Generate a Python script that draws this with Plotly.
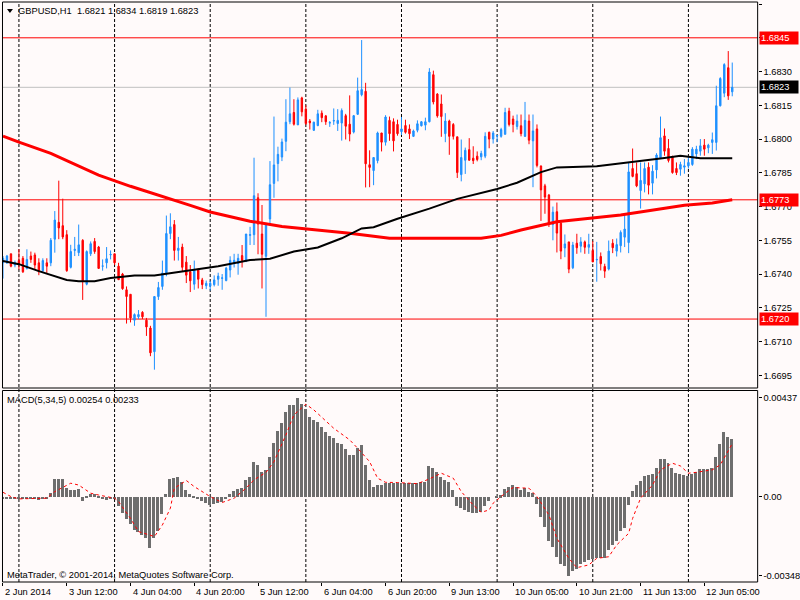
import plotly.graph_objects as go

# H1 bars, index 0 = 2 Jun 2014 20:00
open_ = [
    1.67450, 1.67450, 1.67490, 1.67440, 1.67460, 1.67470, 1.67425, 1.67480, 1.67485, 1.67450,
    1.67415, 1.67450, 1.67450, 1.67555, 1.67630, 1.67615, 1.67575, 1.67430, 1.67505, 1.67495,
    1.67550, 1.67355, 1.67490, 1.67545, 1.67520, 1.67435, 1.67450, 1.67485, 1.67490, 1.67435,
    1.67400, 1.67330, 1.67310, 1.67195, 1.67210, 1.67230, 1.67195, 1.67160, 1.67055, 1.67300,
    1.67345, 1.67405, 1.67580, 1.67620, 1.67505, 1.67520, 1.67453, 1.67410, 1.67355, 1.67418,
    1.67374, 1.67348, 1.67346, 1.67353, 1.67377, 1.67381, 1.67371, 1.67418, 1.67447, 1.67447,
    1.67482, 1.67456, 1.67572, 1.67575, 1.67739, 1.67578, 1.67479, 1.67645, 1.67803, 1.67891,
    1.67920, 1.67990, 1.68077, 1.68118, 1.68063, 1.68183, 1.68133, 1.68080, 1.68039, 1.68060,
    1.68115, 1.68103, 1.68071, 1.68080, 1.68069, 1.68071, 1.68104, 1.68066, 1.68031, 1.68110,
    1.68197, 1.68212, 1.67886, 1.67860, 1.67904, 1.68027, 1.67986, 1.68083, 1.68077, 1.68065,
    1.68033, 1.68060, 1.68045, 1.68012, 1.68039, 1.68059, 1.68062, 1.68077, 1.68286, 1.68200,
    1.68156, 1.68024, 1.68080, 1.68065, 1.68010, 1.67842, 1.67906, 1.67953, 1.67915, 1.67924,
    1.67921, 1.67924, 1.68030, 1.68000, 1.68014, 1.68012, 1.68021, 1.68124, 1.68089, 1.68056,
    1.68059, 1.68012, 1.68080, 1.67992, 1.68045, 1.67880, 1.67792, 1.67751, 1.67620, 1.67677,
    1.67626, 1.67516, 1.67543, 1.67428, 1.67537, 1.67524, 1.67543, 1.67519, 1.67505, 1.67463,
    1.67478, 1.67434, 1.67422, 1.67537, 1.67502, 1.67526, 1.67564, 1.67540, 1.67869, 1.67846,
    1.67771, 1.67801, 1.67875, 1.67804, 1.67863, 1.67917, 1.68014, 1.67958, 1.67920, 1.67869,
    1.67866, 1.67875, 1.67881, 1.67887, 1.67934, 1.67946, 1.67973, 1.67961, 1.67985, 1.67985,
    1.68148, 1.68204, 1.68317, 1.68210,
]
high = [
    1.67480, 1.67485, 1.67490, 1.67460, 1.67510, 1.67480, 1.67510, 1.67500, 1.67495, 1.67470,
    1.67470, 1.67470, 1.67560, 1.67680, 1.67815, 1.67735, 1.67595, 1.67530, 1.67565, 1.67620,
    1.67555, 1.67505, 1.67545, 1.67560, 1.67525, 1.67465, 1.67520, 1.67505, 1.67490, 1.67450,
    1.67405, 1.67345, 1.67310, 1.67225, 1.67240, 1.67235, 1.67205, 1.67170, 1.67300, 1.67365,
    1.67460, 1.67660, 1.67670, 1.67640, 1.67565, 1.67535, 1.67480, 1.67440, 1.67460, 1.67426,
    1.67383, 1.67371, 1.67370, 1.67394, 1.67406, 1.67400, 1.67432, 1.67479, 1.67490, 1.67490,
    1.67529, 1.67578, 1.67610, 1.67917, 1.67759, 1.67707, 1.67625, 1.67902, 1.68100, 1.67966,
    1.68002, 1.68177, 1.68229, 1.68177, 1.68185, 1.68188, 1.68150, 1.68089, 1.68077, 1.68130,
    1.68127, 1.68107, 1.68080, 1.68136, 1.68133, 1.68136, 1.68112, 1.68194, 1.68107, 1.68273,
    1.68440, 1.68250, 1.67950, 1.67918, 1.68033, 1.68027, 1.68106, 1.68100, 1.68092, 1.68086,
    1.68098, 1.68086, 1.68065, 1.68042, 1.68083, 1.68080, 1.68095, 1.68315, 1.68304, 1.68204,
    1.68198, 1.68115, 1.68086, 1.68071, 1.68010, 1.67998, 1.67962, 1.68004, 1.67968, 1.67945,
    1.67948, 1.68030, 1.68033, 1.68036, 1.68018, 1.68050, 1.68139, 1.68139, 1.68104, 1.68109,
    1.68109, 1.68165, 1.68109, 1.68109, 1.68065, 1.67883, 1.67801, 1.67756, 1.67700, 1.67718,
    1.67638, 1.67576, 1.67543, 1.67543, 1.67579, 1.67564, 1.67549, 1.67579, 1.67546, 1.67543,
    1.67496, 1.67446, 1.67549, 1.67555, 1.67558, 1.67594, 1.67662, 1.67896, 1.67958, 1.67896,
    1.67896, 1.67896, 1.67896, 1.67884, 1.67937, 1.68100, 1.68047, 1.68000, 1.67926, 1.67896,
    1.67899, 1.67911, 1.67920, 1.67964, 1.67970, 1.68000, 1.68000, 1.67979, 1.68029, 1.68237,
    1.68275, 1.68337, 1.68391, 1.68340,
]
low = [
    1.67380, 1.67445, 1.67430, 1.67430, 1.67420, 1.67405, 1.67420, 1.67450, 1.67420, 1.67395,
    1.67405, 1.67405, 1.67435, 1.67495, 1.67555, 1.67555, 1.67410, 1.67425, 1.67480, 1.67480,
    1.67285, 1.67350, 1.67480, 1.67490, 1.67425, 1.67415, 1.67425, 1.67465, 1.67440, 1.67375,
    1.67330, 1.67180, 1.67185, 1.67170, 1.67200, 1.67200, 1.67125, 1.67035, 1.66975, 1.67285,
    1.67330, 1.67390, 1.67555, 1.67460, 1.67460, 1.67410, 1.67360, 1.67320, 1.67330, 1.67336,
    1.67333, 1.67333, 1.67327, 1.67345, 1.67348, 1.67330, 1.67368, 1.67385, 1.67429, 1.67397,
    1.67429, 1.67453, 1.67529, 1.67529, 1.67488, 1.67336, 1.67210, 1.67616, 1.67739, 1.67812,
    1.67902, 1.67946, 1.68066, 1.68060, 1.68063, 1.68101, 1.68063, 1.68042, 1.68036, 1.68057,
    1.68075, 1.68063, 1.68054, 1.68063, 1.68036, 1.67993, 1.67998, 1.67990, 1.68025, 1.68107,
    1.68190, 1.67785, 1.67786, 1.67795, 1.67892, 1.67945, 1.67971, 1.67992, 1.67945, 1.68015,
    1.68018, 1.68024, 1.68000, 1.68009, 1.68030, 1.68056, 1.68039, 1.68074, 1.68154, 1.68095,
    1.68010, 1.67986, 1.67930, 1.67998, 1.67827, 1.67812, 1.67845, 1.67904, 1.67889, 1.67901,
    1.67906, 1.67915, 1.67959, 1.67980, 1.67986, 1.68006, 1.68021, 1.68056, 1.68030, 1.68042,
    1.68012, 1.68009, 1.67977, 1.67786, 1.67874, 1.67636, 1.67668, 1.67609, 1.67550, 1.67496,
    1.67466, 1.67475, 1.67404, 1.67422, 1.67490, 1.67496, 1.67490, 1.67490, 1.67454, 1.67366,
    1.67416, 1.67383, 1.67416, 1.67493, 1.67478, 1.67496, 1.67520, 1.67493, 1.67830, 1.67786,
    1.67691, 1.67763, 1.67754, 1.67754, 1.67825, 1.67917, 1.67926, 1.67896, 1.67846, 1.67840,
    1.67837, 1.67846, 1.67869, 1.67881, 1.67911, 1.67926, 1.67926, 1.67937, 1.67934, 1.67949,
    1.68145, 1.68186, 1.68174, 1.68190,
]
close = [
    1.67470, 1.67480, 1.67435, 1.67450, 1.67445, 1.67410, 1.67465, 1.67465, 1.67440, 1.67410,
    1.67460, 1.67435, 1.67550, 1.67640, 1.67605, 1.67565, 1.67415, 1.67500, 1.67510, 1.67530,
    1.67370, 1.67500, 1.67535, 1.67500, 1.67425, 1.67436, 1.67468, 1.67487, 1.67450, 1.67375,
    1.67335, 1.67300, 1.67205, 1.67220, 1.67220, 1.67210, 1.67165, 1.67050, 1.67300, 1.67340,
    1.67405, 1.67580, 1.67610, 1.67505, 1.67515, 1.67430, 1.67395, 1.67370, 1.67418, 1.67377,
    1.67353, 1.67359, 1.67359, 1.67374, 1.67391, 1.67383, 1.67426, 1.67461, 1.67461, 1.67470,
    1.67461, 1.67578, 1.67575, 1.67748, 1.67622, 1.67488, 1.67625, 1.67797, 1.67885, 1.67932,
    1.67987, 1.68075, 1.68112, 1.68066, 1.68174, 1.68121, 1.68069, 1.68072, 1.68075, 1.68112,
    1.68095, 1.68077, 1.68073, 1.68082, 1.68083, 1.68127, 1.68057, 1.68022, 1.68104, 1.68215,
    1.68220, 1.67890, 1.67874, 1.67918, 1.68027, 1.67986, 1.68098, 1.68024, 1.67992, 1.68024,
    1.68045, 1.68030, 1.68024, 1.68036, 1.68068, 1.68077, 1.68077, 1.68298, 1.68165, 1.68103,
    1.68100, 1.68080, 1.68012, 1.68012, 1.67851, 1.67918, 1.67950, 1.67906, 1.67904, 1.67909,
    1.67936, 1.68012, 1.68000, 1.68027, 1.68016, 1.68042, 1.68118, 1.68065, 1.68065, 1.68080,
    1.68024, 1.68083, 1.67995, 1.68036, 1.67883, 1.67774, 1.67742, 1.67624, 1.67675, 1.67582,
    1.67502, 1.67534, 1.67422, 1.67529, 1.67517, 1.67543, 1.67519, 1.67531, 1.67454, 1.67465,
    1.67446, 1.67413, 1.67502, 1.67517, 1.67531, 1.67585, 1.67600, 1.67854, 1.67834, 1.67792,
    1.67816, 1.67869, 1.67795, 1.67857, 1.67929, 1.68006, 1.67946, 1.67905, 1.67851, 1.67851,
    1.67887, 1.67881, 1.67896, 1.67955, 1.67955, 1.67970, 1.67955, 1.67973, 1.67997, 1.68148,
    1.68269, 1.68331, 1.68192, 1.68230,
]
bars = list(range(len(close)))

# moving averages read at sample bars
ma_slow_idx = [0, 4, 12, 24, 32, 40, 47, 52, 62, 70, 79, 87, 93, 97, 120, 125, 130, 139, 155, 171, 178, 183]
ma_slow = [1.68013, 1.67986, 1.67936, 1.67840, 1.67790, 1.67746, 1.67705, 1.67676, 1.67635, 1.67611,
           1.67596, 1.67581, 1.67568, 1.67559, 1.67559, 1.67572, 1.67596, 1.67632, 1.67662, 1.67706,
           1.67716, 1.67730]
ma_fast_idx = [0, 4, 9, 16, 19, 23, 27, 33, 38, 43, 47, 54, 62, 67, 73, 79, 85, 90, 93, 99,
               107, 114, 124, 129, 135, 139, 149, 157, 166, 170, 175, 183]
ma_fast = [1.67458, 1.67444, 1.67413, 1.67374, 1.67368, 1.67368, 1.67382, 1.67394, 1.67394, 1.67406,
           1.67416, 1.67435, 1.67462, 1.67468, 1.67500, 1.67518, 1.67559, 1.67603, 1.67608, 1.67646,
           1.67691, 1.67734, 1.67778, 1.67806, 1.67853, 1.67874, 1.67879, 1.67895, 1.67916, 1.67926,
           1.67915, 1.67915]

# MACD(5,34,5)
macd_hist = [
    -0.00010, -0.00005, -0.00005, -0.00007, -0.00008, -0.00008, -0.00005, -0.00005, -0.00010, -0.00012,
    -0.00008, -0.00010, 0.00018, 0.00080, 0.00082, 0.00082, 0.00040, 0.00030, 0.00030, 0.00035,
    -0.00015, 0.00005, 0.00015, 0.00015, 0.00005, -0.00010, -0.00012, -0.00010, -0.00007, -0.00040,
    -0.00070, -0.00095, -0.00120, -0.00145, -0.00155, -0.00165, -0.00178, -0.00225, -0.00180, -0.00150,
    -0.00075, 0.00012, 0.00080, 0.00085, 0.00088, 0.00065, 0.00030, 0.00012, 0.00005, -0.00005,
    -0.00015, -0.00025, -0.00035, -0.00030, -0.00025, -0.00022, -0.00005, 0.00012, 0.00025, 0.00035,
    0.00040, 0.00075, 0.00090, 0.00155, 0.00140, 0.00110, 0.00120, 0.00175, 0.00240, 0.00290,
    0.00325, 0.00375, 0.00405, 0.00405, 0.00437, 0.00410, 0.00390, 0.00355, 0.00340, 0.00330,
    0.00310, 0.00285, 0.00270, 0.00260, 0.00240, 0.00235, 0.00210, 0.00185, 0.00185, 0.00215,
    0.00230, 0.00140, 0.00075, 0.00045, 0.00055, 0.00055, 0.00062, 0.00062, 0.00062, 0.00062,
    0.00062, 0.00062, 0.00060, 0.00060, 0.00062, 0.00065, 0.00065, 0.00135, 0.00130, 0.00110,
    0.00090, 0.00075, 0.00065, 0.00030, -0.00038, -0.00050, -0.00055, -0.00065, -0.00072, -0.00072,
    -0.00065, -0.00040, -0.00018, 0.00000, 0.00005, 0.00008, 0.00035, 0.00045, 0.00052, 0.00045,
    0.00030, 0.00040, 0.00022, 0.00020, -0.00030, -0.00088, -0.00130, -0.00195, -0.00220, -0.00262,
    -0.00295, -0.00305, -0.00348, -0.00325, -0.00315, -0.00295, -0.00285, -0.00278, -0.00272, -0.00270,
    -0.00270, -0.00268, -0.00235, -0.00210, -0.00195, -0.00150, -0.00135, -0.00035, 0.00025, 0.00052,
    0.00070, 0.00095, 0.00098, 0.00100, 0.00128, 0.00166, 0.00166, 0.00150, 0.00130, 0.00108,
    0.00103, 0.00097, 0.00095, 0.00101, 0.00112, 0.00122, 0.00122, 0.00122, 0.00128, 0.00176,
    0.00232, 0.00285, 0.00266, 0.00254,
]
signal_idx = [0, 2, 4, 8, 11, 13, 17, 19, 22, 24, 28, 29, 32, 34, 38, 40, 42, 43, 46, 48,
              52, 55, 58, 61, 63, 66, 68, 71, 73, 76, 78, 83, 87, 89, 92, 94, 96, 99, 104, 107,
              110, 113, 115, 118, 120, 122, 123, 126, 128, 132, 134, 137, 139, 142, 144, 147, 149, 152, 154, 157,
              158, 160, 163, 165, 168, 170, 172, 174, 178, 180, 183]
signal = [0.00019, 0.00000, -0.00010, -0.00010, -0.00007, 0.00022, 0.00059, 0.00051, 0.00015, 0.00007,
          -0.00007, -0.00022, -0.00096, -0.00154, -0.00176, -0.00125, -0.00051, 0.00037, 0.00071, 0.00044,
          0.00000, -0.00026, -0.00007, 0.00037, 0.00074, 0.00107, 0.00154, 0.00272, 0.00360, 0.00407,
          0.00382, 0.00301, 0.00250, 0.00213, 0.00154, 0.00081, 0.00063, 0.00062, 0.00057, 0.00078,
          0.00103, 0.00081, 0.00022, -0.00037, -0.00069, -0.00059, -0.00029, 0.00015, 0.00040, 0.00037,
          0.00000, -0.00081, -0.00184, -0.00272, -0.00313, -0.00301, -0.00272, -0.00265, -0.00213, -0.00162,
          -0.00096, -0.00007, 0.00051, 0.00118, 0.00147, 0.00135, 0.00103, 0.00107, 0.00118, 0.00140,
          0.00233]

time_idx = [0, 16, 32, 48, 64, 80, 96, 112, 128, 144, 160, 176]
time_labels = ["2 Jun 2014", "3 Jun 12:00", "4 Jun 04:00", "4 Jun 20:00", "5 Jun 12:00", "6 Jun 04:00",
               "6 Jun 20:00", "9 Jun 13:00", "10 Jun 05:00", "10 Jun 21:00", "11 Jun 13:00", "12 Jun 05:00"]
day_idx = [4, 28, 52, 76, 100, 124, 148, 172]

price_ticks = [1.6695, 1.6710, 1.6725, 1.6740, 1.6755, 1.6770, 1.6785, 1.6800, 1.6815, 1.6830, 1.6845, 1.6860]
levels = [1.6845, 1.6773, 1.6720]
bid = 1.6823
macd_ticks = [0.00437, 0.0, -0.00348]
macd_tick_text = ["0.00437", "0.00", "-0.00348"]

BG = "#fffafa"
FONT = "Liberation Sans"


def px_x(p):
    return p / 800.0


def px_y(p):
    return 1 - p / 600.0


left, right = 2.5, 760.5
main_top, main_bot = 2, 388
macd_top, macd_bot = 390.5, 582

fig = go.Figure()

fig.add_trace(go.Candlestick(
    x=bars, open=open_, high=high, low=low, close=close,
    increasing=dict(line=dict(color="#1e90ff", width=1), fillcolor="#1e90ff"),
    decreasing=dict(line=dict(color="#ff0000", width=1), fillcolor="#ff0000"),
    whiskerwidth=0, hoverinfo="skip", xaxis="x", yaxis="y"))
fig.add_trace(go.Scatter(x=ma_slow_idx, y=ma_slow, mode="lines",
                         line=dict(color="#ff0000", width=3), hoverinfo="skip", yaxis="y"))
fig.add_trace(go.Scatter(x=ma_fast_idx, y=ma_fast, mode="lines",
                         line=dict(color="#000000", width=2), hoverinfo="skip", yaxis="y"))

fig.add_trace(go.Bar(x=bars, y=macd_hist, width=0.75, marker=dict(color="#6e6e6e", line=dict(width=0)),
                     hoverinfo="skip", yaxis="y2"))
fig.add_trace(go.Scatter(x=signal_idx, y=signal, mode="lines",
                         line=dict(color="#ff0000", width=1, dash="dot"), hoverinfo="skip", yaxis="y2"))

shapes = []
# day separators
for d in day_idx:
    shapes.append(dict(type="line", xref="x", yref="paper", x0=d, x1=d,
                       y0=px_y(macd_bot), y1=px_y(main_top),
                       line=dict(color="black", width=1, dash="3px,2px"), layer="below"))
# price levels
for lv in levels:
    shapes.append(dict(type="line", xref="paper", yref="y", x0=px_x(left), x1=px_x(right),
                       y0=lv, y1=lv, line=dict(color="#ff0000", width=1), layer="below"))
shapes.append(dict(type="line", xref="paper", yref="y", x0=px_x(left), x1=px_x(right),
                   y0=bid, y1=bid, line=dict(color="#c0c0c0", width=1), layer="below"))
# panel frames
for top, bot in [(main_top, main_bot), (macd_top, macd_bot)]:
    shapes.append(dict(type="rect", xref="paper", yref="paper", x0=px_x(left), x1=px_x(right),
                       y0=px_y(bot), y1=px_y(top), line=dict(color="black", width=1)))
# small menu triangle
shapes.append(dict(type="path", xref="paper", yref="paper",
                   path=f"M {px_x(7)} {px_y(9)} L {px_x(13)} {px_y(9)} L {px_x(10)} {px_y(13)} Z",
                   fillcolor="black", line=dict(width=0)))

annotations = []
for lv in levels:
    annotations.append(dict(xref="paper", yref="y", x=px_x(761.5), y=lv, text=f"{lv:.4f}",
                            showarrow=False, xanchor="left", yanchor="middle", align="left",
                            bgcolor="#ff0000", width=36, borderpad=1,
                            font=dict(color="white", family=FONT, size=9.3)))
annotations.append(dict(xref="paper", yref="y", x=px_x(761.5), y=bid, text=f"{bid:.4f}",
                        showarrow=False, xanchor="left", yanchor="middle", align="left",
                        bgcolor="#000000", width=36, borderpad=1,
                        font=dict(color="white", family=FONT, size=9.3)))
for i, t in zip(time_idx, time_labels):
    annotations.append(dict(xref="x", yref="paper", x=i, y=px_y(591.5), text=t,
                            showarrow=False, xanchor="left", yanchor="middle"))
annotations.append(dict(xref="paper", yref="paper", x=px_x(16), y=px_y(11),
                        text="GBPUSD,H1\u00a0\u00a01.6821 1.6834 1.6819 1.6823",
                        showarrow=False, xanchor="left", yanchor="middle"))
annotations.append(dict(xref="paper", yref="paper", x=px_x(5), y=px_y(400),
                        text="MACD(5,34,5) 0.00254 0.00233",
                        showarrow=False, xanchor="left", yanchor="middle"))
annotations.append(dict(xref="paper", yref="paper", x=px_x(5), y=px_y(575),
                        text="MetaTrader, © 2001-2014, MetaQuotes Software Corp.",
                        showarrow=False, xanchor="left", yanchor="middle"))

fig.update_layout(
    width=800, height=600, margin=dict(l=0, r=0, t=0, b=0),
    paper_bgcolor=BG, plot_bgcolor=BG, showlegend=False,
    font=dict(family=FONT, size=9.3, color="black"),
    boxgap=0.5, bargap=0,
    xaxis=dict(domain=[px_x(left), px_x(right)], range=[-0.125, 189.375], anchor="y2",
               rangeslider=dict(visible=False), showgrid=False, zeroline=False,
               tickvals=time_idx, ticks="outside", ticklen=3, tickcolor="black",
               showticklabels=False, showline=False, fixedrange=True),
    yaxis=dict(domain=[px_y(main_bot), px_y(main_top)], range=[1.668936, 1.686091], anchor="x",
               side="right", tickvals=price_ticks, ticktext=[f"{v:.4f}" for v in price_ticks],
               ticks="outside", ticklen=3, tickcolor="black", showgrid=False, zeroline=False,
               showline=False, fixedrange=True),
    yaxis2=dict(domain=[px_y(macd_bot), px_y(macd_top)], range=[-0.003762, 0.004675], anchor="x",
                side="right", tickvals=macd_ticks, ticktext=macd_tick_text,
                ticks="outside", ticklen=3, tickcolor="black", showgrid=False, zeroline=False,
                showline=False, fixedrange=True),
    shapes=shapes, annotations=annotations,
)

# page body has a default 8px margin; drop it so the figure sits at the window origin
fig.write_html("out.html", config={"displayModeBar": False},
               post_script="document.body.style.margin='0';")
